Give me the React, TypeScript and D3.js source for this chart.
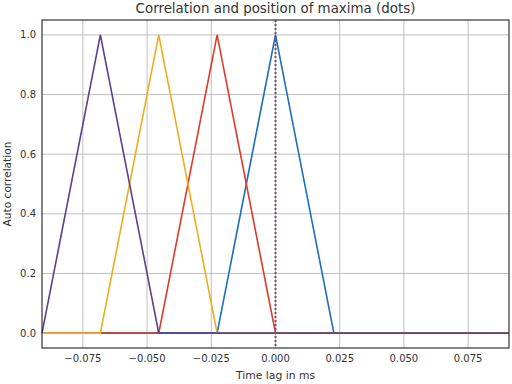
import React, { useEffect, useRef } from "react";
import * as d3 from "d3";

// lag samples (ms), step 1/44 ms
const lags = [-4, -3, -2, -1, 0, 1, 2, 3, 4].map(k => k / 44);
const blueVals = [0, 0, 0, 0, 1, 0, 0, 0, 0];
const redVals = [0, 0, 0, 1, 0, 0, 0, 0, 0];
const orangeVals = [0, 0, 1, 0, 0, 0, 0, 0, 0];
const purpleVals = [0, 1, 0, 0, 0, 0, 0, 0, 0];
const seriesColors = ["#1a6fc0", "#df3b2a", "#efad1f", "#5a3f95"];
const xTicks = [-0.075, -0.05, -0.025, 0, 0.025, 0.05, 0.075];
const yTicks = [0, 0.2, 0.4, 0.6, 0.8, 1.0];
const maxPos = 0;

export default function App() {
  const ref = useRef<SVGSVGElement | null>(null);

  useEffect(() => {
    const width = 512, height = 384;
    const margin = { top: 20, right: 3, bottom: 36, left: 42 };
    const w = width - margin.left - margin.right;
    const h = height - margin.top - margin.bottom;

    const svg = d3.select(ref.current);
    svg.selectAll("*").remove();
    svg.attr("width", width).attr("height", height).attr("viewBox", `0 0 ${width} ${height}`);
    svg.append("rect").attr("width", width).attr("height", height).attr("fill", "#fff");

    const g = svg.append("g").attr("transform", `translate(${margin.left},${margin.top})`);
    const font = "DejaVu Sans, sans-serif";

    const x = d3.scaleLinear().domain([-4 / 44, 4 / 44]).range([0, w]);
    const y = d3.scaleLinear().domain([-0.05, 1.05]).range([h, 0]);

    // grid
    g.selectAll(".gx").data(xTicks).enter().append("line")
      .attr("x1", d => x(d)).attr("x2", d => x(d)).attr("y1", 0).attr("y2", h)
      .attr("stroke", "#b0b0b0").attr("stroke-width", 0.8);
    g.selectAll(".gy").data(yTicks).enter().append("line")
      .attr("x1", 0).attr("x2", w).attr("y1", d => y(d)).attr("y2", d => y(d))
      .attr("stroke", "#b0b0b0").attr("stroke-width", 0.8);

    const fmt = d3.format(".3f");
    g.selectAll(".tx").data(xTicks).enter().append("text")
      .attr("x", d => x(d)).attr("y", h + 14).attr("text-anchor", "middle")
      .attr("font-family", font).attr("font-size", 10).attr("fill", "#333")
      .text(d => fmt(d).replace("-", "\u2212"));
    g.selectAll(".ty").data(yTicks).enter().append("text")
      .attr("x", -6).attr("y", d => y(d)).attr("dy", "0.35em").attr("text-anchor", "end")
      .attr("font-family", font).attr("font-size", 10).attr("fill", "#333")
      .text(d => d3.format(".1f")(d));

    const line = d3.line<number>().x((_, i) => x(lags[i])).y(d => y(d));
    [blueVals, redVals, orangeVals, purpleVals].forEach((vals, i) => {
      g.append("path").datum(vals).attr("d", line as any).attr("fill", "none")
        .attr("stroke", seriesColors[i]).attr("stroke-width", 1.6);
    });

    // maxima position
    g.append("line").attr("x1", x(maxPos)).attr("x2", x(maxPos)).attr("y1", 0).attr("y2", h)
      .attr("stroke", "#7a4a6a").attr("stroke-width", 2).attr("stroke-dasharray", "2,2");

    g.append("rect").attr("width", w).attr("height", h).attr("fill", "none")
      .attr("stroke", "#333").attr("stroke-width", 1.2);

    svg.append("text").attr("x", margin.left + w / 2).attr("y", 13).attr("text-anchor", "middle")
      .attr("font-family", font).attr("font-size", 13.4).attr("fill", "#333")
      .text("Correlation and position of maxima (dots)");
    svg.append("text").attr("x", margin.left + w / 2).attr("y", 379).attr("text-anchor", "middle")
      .attr("font-family", font).attr("font-size", 10.8).attr("fill", "#333")
      .text("Time lag in ms");
    svg.append("text").attr("transform", `translate(11,${margin.top + h / 2}) rotate(-90)`)
      .attr("text-anchor", "middle").attr("font-family", font).attr("font-size", 10.6).attr("fill", "#333")
      .text("Auto correlation");
  }, []);

  return (
    <div style={{ position: "absolute", left: 0, top: 0 }}>
      <svg ref={ref} style={{ display: "block" }} />
    </div>
  );
}
